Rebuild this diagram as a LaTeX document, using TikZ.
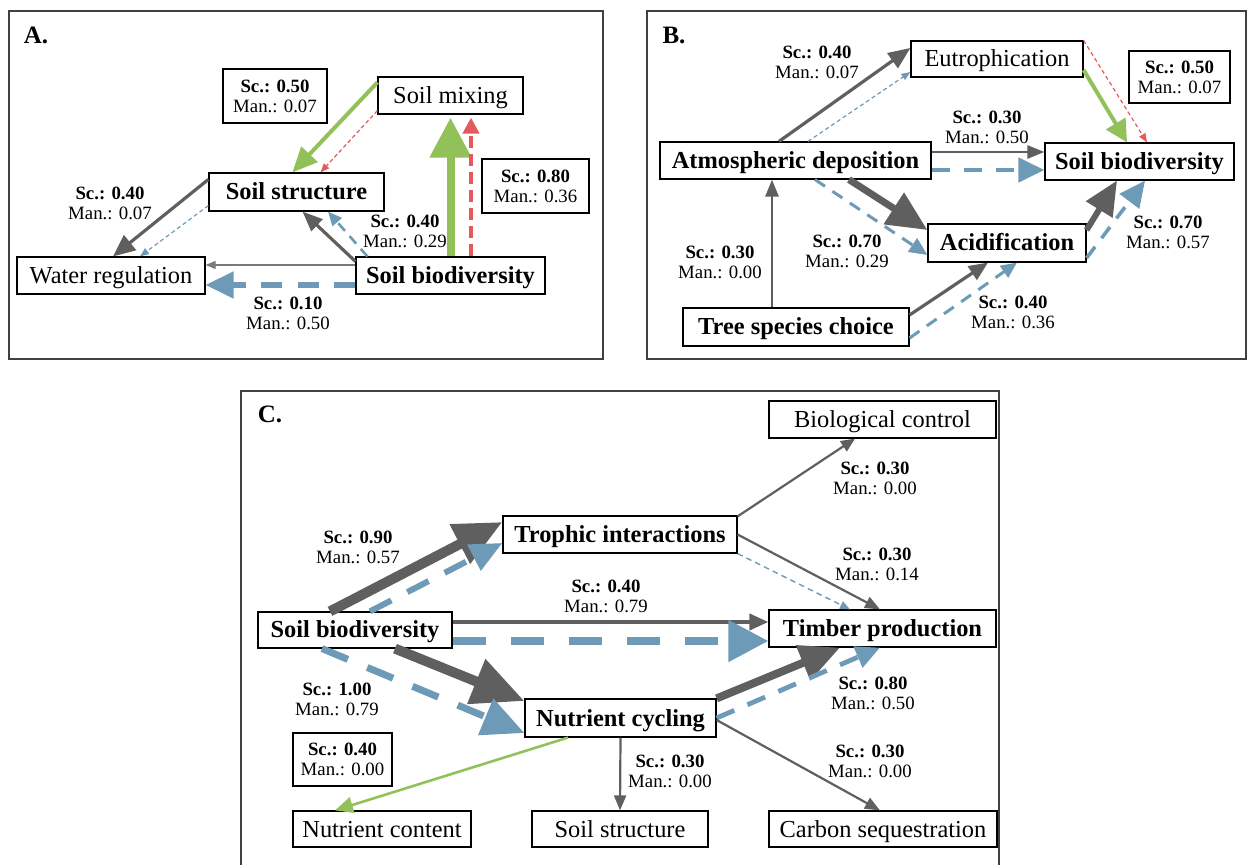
\documentclass[tikz,border=0pt]{standalone}
\usepackage{fontspec}
\setmainfont{Liberation Serif}
\usetikzlibrary{arrows.meta}

\definecolor{cgray}{HTML}{5F5F5F}
\definecolor{clight}{HTML}{7A7A7A}
\definecolor{cblue}{HTML}{6C9AB7}
\definecolor{cgreen}{HTML}{92C15A}
\definecolor{cred}{HTML}{E45A5A}
\definecolor{cframe}{HTML}{404040}

\newcommand{\boxfont}{\fontsize{12.2}{14}\selectfont}
\newcommand{\labfont}{\fontsize{9.4}{10}\selectfont}
\newcommand{\scman}[2]{\textbf{Sc.: #1}\\Man.: #2}

\tikzset{
  bx/.style 2 args={draw=black, line width=0.6pt, fill=white, inner sep=0pt,
    text height=10pt, text depth=2pt,
    minimum width=#1*0.5pt, minimum height=#2*0.5pt, font=\boxfont},
  bxb/.style 2 args={bx={#1}{#2}, font=\boxfont\bfseries},
  lab/.style={align=center, inner sep=0pt, font=\labfont},
  labbox/.style 2 args={draw=black, line width=1.1pt, fill=white, inner sep=0pt,
    minimum width=#1*0.5pt, minimum height=#2*0.5pt, align=center, font=\labfont},
  panel/.style={draw=cframe, line width=1pt},
  plabel/.style={font=\fontsize{12.5}{14}\selectfont\bfseries, inner sep=0pt},
  tip/.style 2 args={-{Triangle[length=#1pt, width=#2pt]}},
  gl/.style={draw=cgray, line width=#1},
  bl/.style={draw=cblue, line width=#1},
  grl/.style={draw=cgreen, line width=#1},
  rl/.style={draw=cred, line width=#1},
}

\begin{document}
\begin{tikzpicture}[x=0.5pt, y=-0.5pt]
\useasboundingbox (0,0) rectangle (1248,865);

% ---------- frames ----------
\draw[panel] (9,11) rectangle (603,359);
\draw[panel] (647,11) rectangle (1246,359);
\draw[panel] (241,870) -- (241,391) -- (999,391) -- (999,870);

% ---------- panel A ----------
\node[plabel] (pa) at (36,35) {A.};
\node[bx={145}{37}] (mix) at (450.5,95.5) {Soil mixing};
\node[bxb={175}{38}] (structA) at (296.5,192) {Soil structure};
\node[bx={188}{37}] (water) at (111,275.5) {Water regulation};
\node[bxb={189}{37}] (bioA) at (450.5,275.5) {Soil biodiversity};

\node[labbox={104}{54}] (sA1) at (275,96) {\scman{0.50}{0.07}};
\node[labbox={107}{54}] (sA2) at (535.5,186) {\scman{0.80}{0.36}};
\node[lab] (lA1) at (110,203) {\scman{0.40}{0.07}};
\node[lab] (lA2) at (405,231) {\scman{0.40}{0.29}};
\node[lab] (lA3) at (288,313) {\scman{0.10}{0.50}};

\draw[grl=2pt, tip={12.5}{11}] ([shift={(0,6)}]mix.north west) -- ([shift={(84,0)}]structA.north west);
\draw[rl=0.6pt, dash pattern=on 2pt off 1.3pt, tip={4.5}{3.5}] ([shift={(0,-4)}]mix.south west) -- ([shift={(24,0)}]structA.north);
\draw[gl=1.6pt, tip={11}{9.5}] ([shift={(0,7)}]structA.north west) -- ([shift={(2,0)}]water.north);
\draw[bl=0.6pt, dash pattern=on 2pt off 1.5pt, tip={4.5}{3.5}] ([shift={(0,-6)}]structA.south west) -- ([shift={(29,0)}]water.north);
\draw[gl=1.6pt, tip={10}{8}] ([shift={(0,5)}]bioA.north west) -- ([shift={(6,0)}]structA.south);
\draw[bl=1.3pt, dash pattern=on 5pt off 3.5pt, tip={7}{6}] ([shift={(12,0)}]bioA.north west) -- ([shift={(31.5,0)}]structA.south);
\draw[draw=clight, line width=0.6pt, tip={5}{4}] ([shift={(0,-10.5)}]bioA.west) -- ([shift={(0,-10.5)}]water.east);
\draw[bl=2.6pt, dash pattern=on 10.5pt off 7.8pt, tip={14}{13}] ([shift={(0,9.5)}]bioA.west) -- ([shift={(0,9.5)}]water.east);
\draw[grl=4pt, tip={20}{20}] (bioA.north) -- ([shift={(0,3)}]mix.south);
\draw[rl=2pt, dash pattern=on 6pt off 3pt, tip={8}{8}] ([shift={(20.5,0)}]bioA.north) -- ([shift={(20.5,3)}]mix.south);

% ---------- panel B ----------
\node[plabel] (pb) at (674,35) {B.};
\node[bx={172}{36}] (eut) at (997,59) {Eutrophication};
\node[bxb={271}{37}] (atm) at (795.5,160.5) {Atmospheric deposition};
\node[bxb={189}{37}] (bioB) at (1139.5,161.5) {Soil biodiversity};
\node[bxb={158}{38}] (acid) at (1007,243) {Acidification};
\node[bxb={226}{38}] (tree) at (796,327) {Tree species choice};

\node[labbox={101}{52}] (sB1) at (1179.5,77) {\scman{0.50}{0.07}};
\node[lab] (lB1) at (817,62) {\scman{0.40}{0.07}};
\node[lab] (lB2) at (987,127) {\scman{0.30}{0.50}};
\node[lab] (lB3) at (1168,232) {\scman{0.70}{0.57}};
\node[lab] (lB4) at (1013,312) {\scman{0.40}{0.36}};
\node[lab] (lB5) at (720,262) {\scman{0.30}{0.00}};
\node[lab] (lB6) at (847,251) {\scman{0.70}{0.29}};

\draw[gl=1.6pt, tip={11}{9}] ([shift={(-16.5,0)}]atm.north) -- ([shift={(0,-11)}]eut.west);
\draw[bl=0.6pt, dash pattern=on 2pt off 1.5pt, tip={4.5}{3.5}] ([shift={(12.5,0)}]atm.north) -- ([shift={(0,13)}]eut.west);
\draw[gl=1.3pt, tip={8.5}{6.5}] ([shift={(0,-8.5)}]atm.east) -- ([shift={(0,-9.5)}]bioB.west);
\draw[bl=2.3pt, dash pattern=on 9pt off 7pt, tip={13}{12}] ([shift={(0,9.5)}]atm.east) -- ([shift={(0,8.5)}]bioB.west);
\draw[gl=3.5pt, tip={20}{18}] ([shift={(53.5,0)}]atm.south) -- ([shift={(0,-13)}]acid.west);
\draw[bl=1.5pt, dash pattern=on 6pt off 4.5pt, tip={9}{8}] ([shift={(19.5,0)}]atm.south) -- ([shift={(0,12)}]acid.west);
\draw[gl=1.4pt, tip={8.5}{6.5}] ([shift={(-24,0)}]tree.north) -- ([shift={(-23.5,0)}]atm.south);
\draw[gl=1.6pt, tip={9.5}{8}] ([shift={(0,-12)}]tree.east) -- ([shift={(-19,0)}]acid.south);
\draw[bl=1.5pt, dash pattern=on 6pt off 4.5pt, tip={8}{7}] ([shift={(0,11)}]tree.east) -- ([shift={(10,0)}]acid.south);
\draw[grl=2pt, tip={11}{11}] ([shift={(0,11)}]eut.east) -- ([shift={(-12.5,0)}]bioB.north);
\draw[rl=0.6pt, dash pattern=on 2pt off 1.5pt, tip={4.5}{3.5}] (eut.north east) -- ([shift={(7.5,0)}]bioB.north);
\draw[gl=3pt, tip={17}{15}] ([shift={(0,-13)}]acid.east) -- ([shift={(-22.5,0)}]bioB.south);
\draw[bl=1.8pt, dash pattern=on 7pt off 5.4pt, tip={13}{12}] ([shift={(0,15)}]acid.east) -- ([shift={(5.5,0)}]bioB.south);

% ---------- panel C ----------
\node[plabel] (pc) at (270,414) {C.};
\node[bx={227}{37}] (bioc) at (882.5,419.5) {Biological control};
\node[bxb={234}{37}] (troph) at (620,534.5) {Trophic interactions};
\node[bxb={194}{36}] (bioC) at (355,630) {Soil biodiversity};
\node[bxb={227}{37}] (timber) at (882.5,628.5) {Timber production};
\node[bxb={191}{38}] (nutcyc) at (620.5,718) {Nutrient cycling};
\node[bx={178}{36}] (nutcont) at (382,829) {Nutrient content};
\node[bx={176}{36}] (soilstr) at (620,829) {Soil structure};
\node[bx={228}{36}] (carbon) at (883,829) {Carbon sequestration};

\node[labbox={99}{53}] (sC1) at (342.5,759.5) {\scman{0.40}{0.00}};
\node[lab] (lC1) at (358,547) {\scman{0.90}{0.57}};
\node[lab] (lC2) at (606,596) {\scman{0.40}{0.79}};
\node[lab] (lC3) at (337,699) {\scman{1.00}{0.79}};
\node[lab] (lC4) at (875,478) {\scman{0.30}{0.00}};
\node[lab] (lC5) at (877,564) {\scman{0.30}{0.14}};
\node[lab] (lC6) at (873,693.5) {\scman{0.80}{0.50}};
\node[lab] (lC7) at (670,771) {\scman{0.30}{0.00}};
\node[lab] (lC8) at (870,761) {\scman{0.30}{0.00}};

\draw[gl=5pt, tip={24}{21}] ([shift={(-25,0)}]bioC.north) -- ([shift={(0,-12.5)}]troph.west);
\draw[bl=3pt, dash pattern=on 12pt off 9pt, tip={16}{14}] ([shift={(15,0)}]bioC.north) -- ([shift={(0,8.5)}]troph.west);
\draw[gl=2pt, tip={9.5}{8}] ([shift={(0,-8)}]bioC.east) -- ([shift={(0,-6.5)}]timber.west);
\draw[bl=4pt, dash pattern=on 16.5pt off 12.5pt, tip={20}{20}] ([shift={(0,11)}]bioC.east) -- ([shift={(0,12.5)}]timber.west);
\draw[gl=5pt, tip={26}{23}] ([shift={(40,0)}]bioC.south) -- ([shift={(0,-17)}]nutcyc.west);
\draw[bl=3.5pt, dash pattern=on 14pt off 10.5pt, tip={21}{19}] ([shift={(-33,0)}]bioC.south) -- ([shift={(0,15)}]nutcyc.west);
\draw[gl=1.1pt, tip={7}{6}] ([shift={(0,1)}]troph.north east) -- ([shift={(-27.5,0)}]bioc.south);
\draw[gl=1.1pt, tip={7.5}{6}] (troph.east) -- ([shift={(-2.5,0)}]timber.north);
\draw[bl=0.7pt, dash pattern=on 2.8pt off 2.1pt, tip={5}{4}] (troph.south east) -- ([shift={(-32.5,0)}]timber.north);
\draw[gl=4pt, tip={20}{18}] (nutcyc.north east) -- ([shift={(-42.5,0)}]timber.south);
\draw[bl=2.4pt, dash pattern=on 9.6pt off 7.2pt, tip={12}{11}] (nutcyc.east) -- ([shift={(-2.5,0)}]timber.south);
\draw[grl=1.3pt, tip={9}{8}] ([shift={(-52.5,0)}]nutcyc.south) -- ([shift={(-47,0)}]nutcont.north);
\draw[gl=1.1pt, tip={7.5}{6}] (nutcyc.south) -- (soilstr.north);
\draw[gl=1.1pt, tip={7.5}{6}] ([shift={(0,2)}]nutcyc.east) -- ([shift={(-3,0)}]carbon.north);
\end{tikzpicture}
\end{document}
